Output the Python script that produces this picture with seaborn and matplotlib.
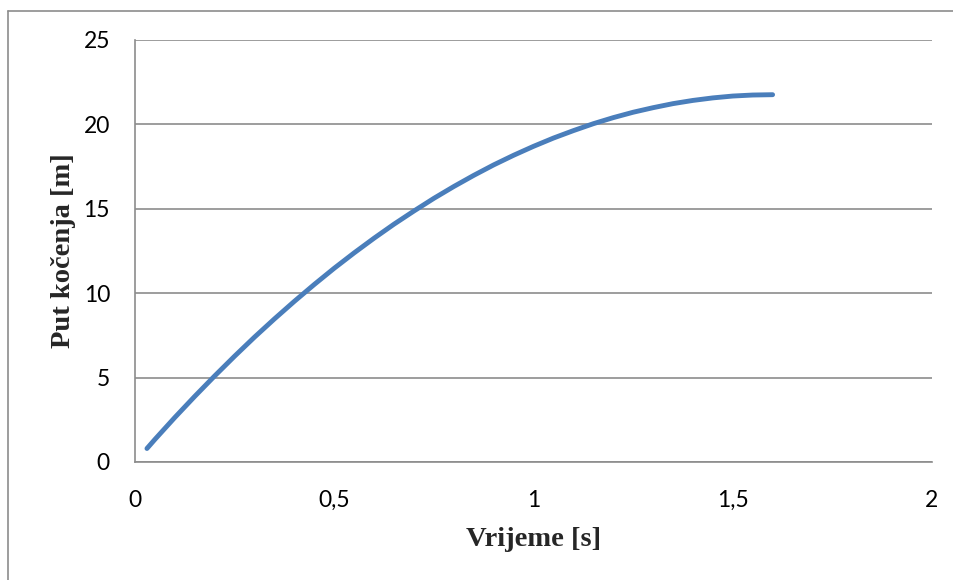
import matplotlib
matplotlib.use("Agg")
import matplotlib.pyplot as plt
import seaborn as sns
import pandas as pd
from matplotlib.lines import Line2D

# Data
vrijeme = [0.03, 0.05, 0.10, 0.15, 0.20, 0.25, 0.30, 0.35, 0.40, 0.45, 0.50,
           0.55, 0.60, 0.65, 0.70, 0.75, 0.80, 0.85, 0.90, 0.95, 1.00,
           1.05, 1.10, 1.15, 1.20, 1.25, 1.30, 1.35, 1.40, 1.45, 1.50,
           1.55, 1.60]
put = [0.80, 1.34, 2.64, 3.89, 5.10, 6.27, 7.40, 8.48, 9.52, 10.52, 11.48,
       12.39, 13.26, 14.09, 14.87, 15.62, 16.32, 16.98, 17.60, 18.17, 18.70,
       19.19, 19.63, 20.04, 20.40, 20.72, 20.99, 21.23, 21.42, 21.57, 21.68,
       21.74, 21.76]

x_ticks = [0, 0.5, 1, 1.5, 2]
x_tick_labels = ["0", "0,5", "1", "1,5", "2"]
y_ticks = [0, 5, 10, 15, 20, 25]
y_tick_labels = ["0", "5", "10", "15", "20", "25"]

x_label = "Vrijeme [s]"
y_label = "Put kočenja [m]"

df = pd.DataFrame({"Vrijeme": vrijeme, "Put": put})

sns.set_theme(style="white")
plt.rcParams["font.family"] = ["Lato", "DejaVu Sans"]

fig = plt.figure(figsize=(9.54, 5.80), dpi=100)
ax = fig.add_axes([135/954, 1 - 462/580, (932-135)/954, (462-40)/580])

sns.lineplot(data=df, x="Vrijeme", y="Put", ax=ax, color="#4A7EBB",
             linewidth=3.5, solid_capstyle="round", sort=False)

ax.set_xlim(0, 2)
ax.set_ylim(0, 25)
ax.set_xticks(x_ticks)
ax.set_xticklabels(x_tick_labels)
ax.set_yticks(y_ticks)
ax.set_yticklabels(y_tick_labels)
ax.tick_params(axis="both", length=0, labelsize=16.5, colors="black")
ax.tick_params(axis="x", pad=20)
ax.tick_params(axis="y", pad=18)

ax.yaxis.grid(True, color="#8C8C8C", linewidth=1.2)
ax.xaxis.grid(False)
ax.set_axisbelow(True)

for side in ["top", "right"]:
    ax.spines[side].set_visible(False)
for side in ["left", "bottom"]:
    ax.spines[side].set_color("#8C8C8C")
    ax.spines[side].set_linewidth(1.2)

ax.set_xlabel(x_label, fontsize=20.5, fontweight="bold",
              family=["Liberation Serif", "DejaVu Serif"])
ax.set_ylabel(y_label, fontsize=20.5, fontweight="bold",
              family=["Liberation Serif", "DejaVu Serif"])
ax.xaxis.set_label_coords(0.5, (462 - 527) / 422)
ax.yaxis.set_label_coords((76 - 135) / 797, 0.5)

# Outer chart border (top and left visible)
fig.add_artist(Line2D([8/954, 1.0], [1 - 11/580, 1 - 11/580],
                      transform=fig.transFigure, color="#8C8C8C", linewidth=1.2))
fig.add_artist(Line2D([8/954, 8/954], [0.0, 1 - 11/580],
                      transform=fig.transFigure, color="#8C8C8C", linewidth=1.2))

fig.savefig("out.png", dpi=100)
